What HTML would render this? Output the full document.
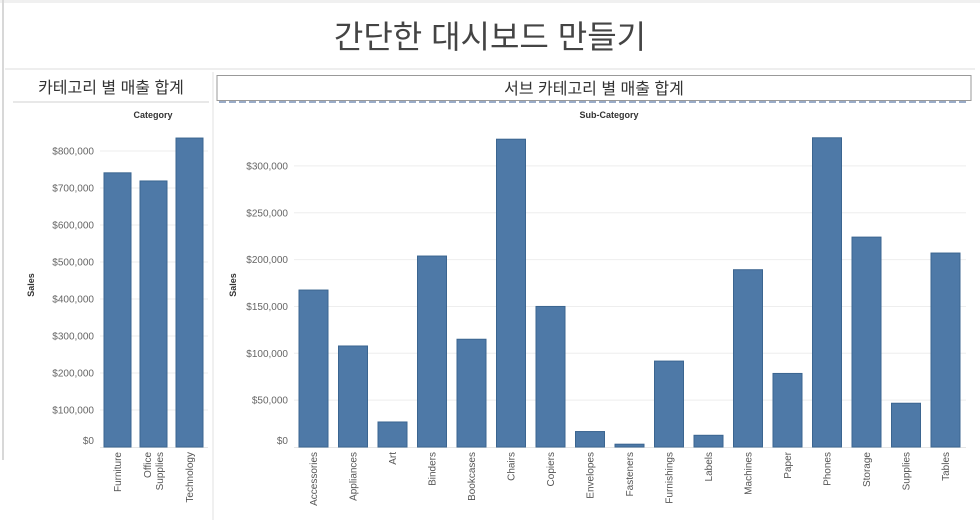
<!DOCTYPE html>
<html><head><meta charset="utf-8"><style>
body{margin:0;width:980px;height:527px;background:#fff;overflow:hidden;font-family:"Liberation Sans","Noto Sans CJK KR",sans-serif;}
</style></head><body>
<svg width="980" height="527" xmlns="http://www.w3.org/2000/svg" font-family="'Liberation Sans','Noto Sans CJK KR',sans-serif">
<rect x="0" y="0" width="980" height="3" fill="#f0f0f0"/>
<line x1="3" y1="0" x2="3" y2="460" stroke="#d8d8d8" stroke-width="2"/>
<text x="490" y="48" text-anchor="middle" font-size="32" fill="#444">간단한 대시보드 만들기</text>
<line x1="5" y1="69" x2="975" y2="69" stroke="#ddd"/>
<text x="111" y="93" text-anchor="middle" font-size="16" fill="#333">카테고리 별 매출 합계</text>
<line x1="13" y1="102" x2="209" y2="102" stroke="#e0e0e0" stroke-width="1.5"/>
<line x1="213" y1="72" x2="213" y2="520" stroke="#e0e0e0"/>
<rect x="217" y="75.5" width="754" height="25" fill="#fff" stroke="#999"/>
<line x1="219" y1="102" x2="969" y2="102" stroke="#7890b5" stroke-width="1.5" stroke-dasharray="7,3"/>
<text x="594" y="94" text-anchor="middle" font-size="16" fill="#333">서브 카테고리 별 매출 합계</text>
<text x="153" y="118" text-anchor="middle" font-size="9" font-weight="bold" fill="#333">Category</text>
<text x="609" y="118" text-anchor="middle" font-size="9" font-weight="bold" fill="#333">Sub-Category</text>
<text transform="translate(34,285) rotate(-90)" text-anchor="middle" font-size="9" font-weight="bold" fill="#333">Sales</text>
<text transform="translate(236,285) rotate(-90)" text-anchor="middle" font-size="9" font-weight="bold" fill="#333">Sales</text>
<g id="left"></g><g id="right"></g>
</svg>
<script>
const catNames=["Furniture","Office|Supplies","Technology"];
const catSales=[741000,719000,835000];
const catTicks=[0,100000,200000,300000,400000,500000,600000,700000,800000];
const subNames=["Accessories","Appliances","Art","Binders","Bookcases","Chairs","Copiers","Envelopes","Fasteners","Furnishings","Labels","Machines","Paper","Phones","Storage","Supplies","Tables"];
const subSales=[167500,107800,26700,203800,115000,328500,150000,16500,3000,91700,12500,189200,78500,330000,224000,46700,207000];
const subTicks=[0,50000,100000,150000,200000,250000,300000];
const NS="http://www.w3.org/2000/svg";
function mk(p,t,a){const e=document.createElementNS(NS,t);for(const k in a)e.setAttribute(k,a[k]);p.appendChild(e);return e;}
function fmt(v){return "$"+v.toLocaleString("en-US");}
function chart(g,names,vals,ticks,x1,step,bw,first,pxPer,gx0,lx){
  const y=v=>447-v*pxPer;
  ticks.forEach(t=>{
    if(t>0){const l=mk(g,"line",{x1:gx0,x2:x1,y1:y(t),y2:y(t),stroke:"#eeeeee"});
    
    }
    const tx=mk(g,"text",{x:lx,y:(t===0?y(t)-3:y(t)+3.5),"text-anchor":"end","font-size":"10",fill:"#666"});
    tx.textContent=fmt(t);
    
    
  });
  const ax=mk(g,"line",{x1:gx0,x2:x1,y1:447.5,y2:447.5,stroke:"#e6e6e6"});
  
  
  names.forEach((n,i)=>{
    const bx=first+i*step;
    const r=mk(g,"rect",{x:bx,y:y(vals[i]),width:bw,height:447-y(vals[i]),fill:"#4e79a7",stroke:"#3b6590","stroke-width":"1"});
    
    
    const parts=n.split('|');
    parts.forEach((p,j)=>{
      const cx=bx+bw/2+(parts.length>1?(j===0?-6:6):0)+3.5;
      const t=mk(g,"text",{transform:`translate(${cx},452) rotate(-90)`,"text-anchor":"end","font-size":"10",fill:"#555"});
      t.textContent=p;
      
      
    });
  });
}
chart(document.getElementById("left"),catNames,catSales,catTicks,208,36,27,104,0.00037,100,94);
chart(document.getElementById("right"),subNames,subSales,subTicks,966,39.5,29,299,0.000937,294,288);
</script>
</body></html>
